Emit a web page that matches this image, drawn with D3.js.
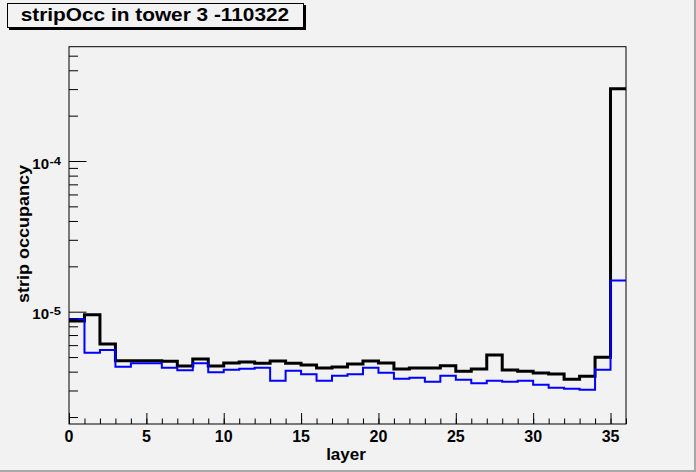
<!DOCTYPE html>
<html>
<head>
<meta charset="utf-8">
<script src="https://cdn.jsdelivr.net/npm/d3@7"></script>
<style>
  html, body { margin: 0; padding: 0; background: #f2f2f2; }
  svg { display: block; }
  text { font-family: "Liberation Sans", Arial, Helvetica, sans-serif; font-weight: bold; }
</style>
</head>
<body>
<script>
// ---- data ----
const layers = d3.range(0, 36); // bin lower edges 0..35, width 1
const blackSeries = [
  8.68e-6, 9.55e-6, 6.10e-6, 4.73e-6, 4.73e-6, 4.73e-6, 4.69e-6, 4.36e-6, 4.85e-6, 4.36e-6,
  4.57e-6, 4.64e-6, 4.55e-6, 4.71e-6, 4.55e-6, 4.43e-6, 4.23e-6, 4.30e-6, 4.50e-6, 4.71e-6,
  4.57e-6, 4.17e-6, 4.23e-6, 4.23e-6, 4.38e-6, 4.02e-6, 4.17e-6, 5.16e-6, 4.10e-6, 4.02e-6,
  3.92e-6, 3.86e-6, 3.56e-6, 3.73e-6, 4.98e-6, 3.02e-4
];
const blueSeries = [
  8.95e-6, 5.34e-6, 5.57e-6, 4.32e-6, 4.55e-6, 4.55e-6, 4.25e-6, 4.09e-6, 4.55e-6, 3.96e-6,
  4.12e-6, 4.19e-6, 4.25e-6, 3.48e-6, 4.06e-6, 3.84e-6, 3.48e-6, 3.76e-6, 3.84e-6, 4.25e-6,
  3.94e-6, 3.59e-6, 3.65e-6, 3.43e-6, 3.76e-6, 3.54e-6, 3.35e-6, 3.48e-6, 3.43e-6, 3.48e-6,
  3.28e-6, 3.13e-6, 3.08e-6, 3.04e-6, 4.12e-6, 1.61e-5
];
const xMajorTicks = [0, 5, 10, 15, 20, 25, 30, 35];
const xMinorTicks = d3.range(0, 37);
const yMajorTicks = [1e-5, 1e-4];
const yMajorLabels = ["-5", "-4"];
const yMinorTicks = [2e-6,3e-6,4e-6,5e-6,6e-6,7e-6,8e-6,9e-6,
                     2e-5,3e-5,4e-5,5e-5,6e-5,7e-5,8e-5,9e-5,
                     2e-4,3e-4,4e-4,5e-4];
const titleText = "stripOcc in tower 3 -110322";
const xTitle = "layer";
const yTitle = "strip occupancy";

// ---- layout ----
const W = 696, H = 472;
const fx0 = 69, fx1 = 626, fy0 = 46.7, fy1 = 424;

const svg = d3.select("body").append("svg").attr("width", W).attr("height", H);

// canvas background and bevel
svg.append("rect").attr("x", 0).attr("y", 0).attr("width", W).attr("height", H).attr("fill", "#f2f2f2");
svg.append("rect").attr("x", W - 2).attr("y", 0).attr("width", 2).attr("height", H).attr("fill", "#a8a8a8");
svg.append("rect").attr("x", 0).attr("y", H - 2).attr("width", W).attr("height", 2).attr("fill", "#a8a8a8");

const x = d3.scaleLinear().domain([0, 36]).range([fx0, fx1]);
const y = d3.scaleLog().domain([1.798e-6, 5.735e-4]).range([fy1, fy0]);

// frame
svg.append("rect").attr("x", fx0).attr("y", fy0).attr("width", fx1 - fx0).attr("height", fy1 - fy0)
  .attr("fill", "#f2f2f2").attr("stroke", "#000").attr("stroke-width", 1);

// histograms (clip to frame)
svg.append("clipPath").attr("id", "clipf").append("rect")
  .attr("x", fx0).attr("y", fy0).attr("width", fx1 - fx0).attr("height", fy1 - fy0);

function histPoints(vals) {
  const pts = vals.map((v, i) => [layers[i], v]);
  pts.push([layers[layers.length - 1] + 1, vals[vals.length - 1]]);
  return pts;
}
const line = d3.line().x(d => x(d[0])).y(d => y(d[1])).curve(d3.curveStepAfter);

svg.append("path").attr("d", line(histPoints(blackSeries)))
  .attr("fill", "none").attr("stroke", "#000").attr("stroke-width", 3).attr("clip-path", "url(#clipf)");
svg.append("path").attr("d", line(histPoints(blueSeries)))
  .attr("fill", "none").attr("stroke", "#0000ff").attr("stroke-width", 2).attr("clip-path", "url(#clipf)");

// x axis ticks (inside, pointing up)
const gxMinor = svg.append("g").attr("transform", `translate(0,${fy1})`)
  .call(d3.axisBottom(x).tickValues(xMinorTicks).tickSize(-5.5).tickFormat(""));
const gxMajor = svg.append("g").attr("transform", `translate(0,${fy1})`)
  .call(d3.axisBottom(x).tickValues(xMajorTicks).tickSize(-11).tickFormat(""));
[gxMinor, gxMajor].forEach(g => { g.select(".domain").remove(); g.selectAll("line").attr("stroke", "#000"); });

svg.append("g").selectAll("text").data(xMajorTicks).join("text")
  .attr("x", d => x(d)).attr("y", 442).attr("text-anchor", "middle")
  .style("font-size", "16px").attr("fill", "#000").text(d => d);

// y axis ticks (inside, pointing right)
const gyMinor = svg.append("g").attr("transform", `translate(${fx0},0)`)
  .call(d3.axisLeft(y).tickValues(yMinorTicks).tickSize(-9).tickFormat(""));
const gyMajor = svg.append("g").attr("transform", `translate(${fx0},0)`)
  .call(d3.axisLeft(y).tickValues(yMajorTicks).tickSize(-17.5).tickFormat(""));
[gyMinor, gyMajor].forEach(g => { g.select(".domain").remove(); g.selectAll("line").attr("stroke", "#000"); });

svg.append("g").selectAll("text").data(yMajorTicks).join("text")
  .attr("x", 49).attr("y", d => y(d) + 7.5).attr("text-anchor", "end")
  .style("font-size", "15px").attr("fill", "#000").text("10");
svg.append("g").selectAll("text").data(yMajorTicks).join("text")
  .attr("x", 49.5).attr("y", d => y(d) + 3.5).attr("text-anchor", "start")
  .style("font-size", "11px").attr("textLength", 11.5).attr("lengthAdjust", "spacingAndGlyphs")
  .attr("fill", "#000").text((d, i) => yMajorLabels[i]);

// axis titles
svg.append("text").attr("x", 346).attr("y", 460).attr("text-anchor", "middle")
  .style("font-size", "17px").attr("fill", "#000").text(xTitle);
svg.append("text").attr("transform", "translate(28.5,234) rotate(-90)").attr("text-anchor", "middle")
  .style("font-size", "16px").attr("textLength", 138).attr("lengthAdjust", "spacingAndGlyphs")
  .attr("fill", "#000").text(yTitle);

// title box
svg.append("rect").attr("x", 9).attr("y", 5).attr("width", 297).attr("height", 25).attr("fill", "#000");
svg.append("rect").attr("x", 7.5).attr("y", 3.5).attr("width", 296).attr("height", 24)
  .attr("fill", "#f2f2f2").attr("stroke", "#000").attr("stroke-width", 1);
svg.append("text").attr("x", 20.7).attr("y", 21).style("font-size", "18px")
  .attr("textLength", 268.5).attr("lengthAdjust", "spacingAndGlyphs")
  .attr("fill", "#000").text(titleText);
</script>
</body>
</html>
